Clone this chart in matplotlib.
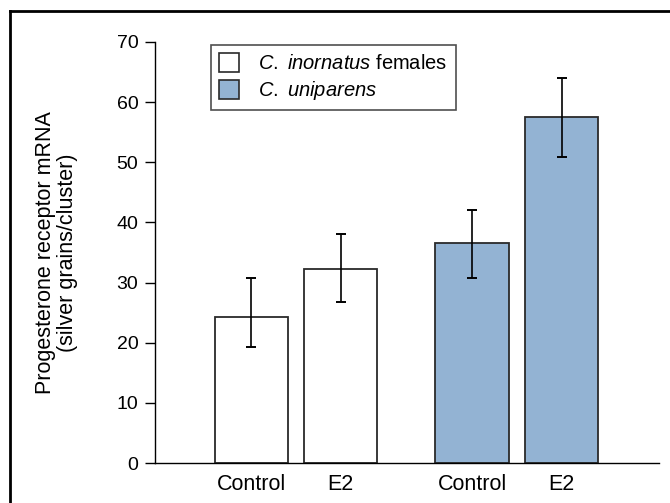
import matplotlib
matplotlib.use("Agg")
import matplotlib.pyplot as plt
from matplotlib.lines import Line2D
from matplotlib.patches import Patch

plt.rcParams["font.family"] = ["Liberation Sans", "DejaVu Sans"]
plt.rcParams["mathtext.fontset"] = "custom"
plt.rcParams["mathtext.rm"] = "Liberation Sans"
plt.rcParams["mathtext.it"] = "Liberation Sans:italic"

# data
groups = ["C. inornatus females", "C. uniparens"]
conditions = ["Control", "E2", "Control", "E2"]
means = [24.2, 32.3, 36.6, 57.6]
err_low = [19.3, 26.8, 30.7, 50.8]
err_high = [30.7, 38.0, 42.0, 64.0]
bar_group = [0, 0, 1, 1]

colors = ["white", "#93b3d3"]
edge = "#2a2a2a"

positions = [1.32, 2.54, 4.34, 5.57]

fig = plt.figure(figsize=(6.7, 5.03), dpi=100)
ax = fig.add_axes([155 / 670, 1 - 463 / 503, (659 - 155) / 670, (463 - 42) / 503])

lower = [m - lo for m, lo in zip(means, err_low)]
upper = [hi - m for m, hi in zip(means, err_high)]
ax.bar(positions, means, width=1.0,
       color=[colors[g] for g in bar_group], edgecolor=edge, linewidth=1.3, zorder=2)
ax.errorbar(positions, means, yerr=[lower, upper], fmt="none", ecolor="black",
            elinewidth=1.2, capsize=3.8, capthick=1.4, zorder=3)

ax.set_xlim(0, 6.9)
ax.set_ylim(0, 70)
ax.set_yticks(range(0, 71, 10))
ax.set_xticks(positions)
ax.set_xticklabels(conditions)
ax.tick_params(axis="x", length=0, pad=8, labelsize=15.5)
ax.tick_params(axis="y", length=7, width=1, pad=5, labelsize=14)
for side in ["top", "right"]:
    ax.spines[side].set_visible(False)
for side in ["left", "bottom"]:
    ax.spines[side].set_linewidth(1.0)

ax.set_ylabel("Progesterone receptor mRNA\n(silver grains/cluster)", fontsize=15.5,
              linespacing=1.1)
ax.yaxis.set_label_coords(-0.152, 0.5)

handles = [Patch(facecolor=colors[i], edgecolor=edge, linewidth=1.2) for i in range(2)]
labels = [r"$\mathit{C.\ inornatus}$ females", r"$\mathit{C.\ uniparens}$"]
leg = fig.legend(handles, labels, loc="upper left",
                 bbox_to_anchor=(211 / 670, 1 - 45 / 503), fontsize=14.5,
                 frameon=True, fancybox=False, borderpad=0.4, handlelength=1.0,
                 handleheight=1.05, handletextpad=0.95, labelspacing=0.3,
                 borderaxespad=0)
leg.get_frame().set_edgecolor("#222222")
leg.get_frame().set_linewidth(1.2)

# outer frame, cropped at the right and bottom edges
fig.add_artist(Line2D([10 / 670, 10 / 670], [0, 1 - 11 / 503], transform=fig.transFigure,
                      color="black", linewidth=2.0, solid_capstyle="projecting"))
fig.add_artist(Line2D([10 / 670, 1], [1 - 11 / 503, 1 - 11 / 503], transform=fig.transFigure,
                      color="black", linewidth=2.0, solid_capstyle="projecting"))

fig.savefig("out.png", dpi=100)
